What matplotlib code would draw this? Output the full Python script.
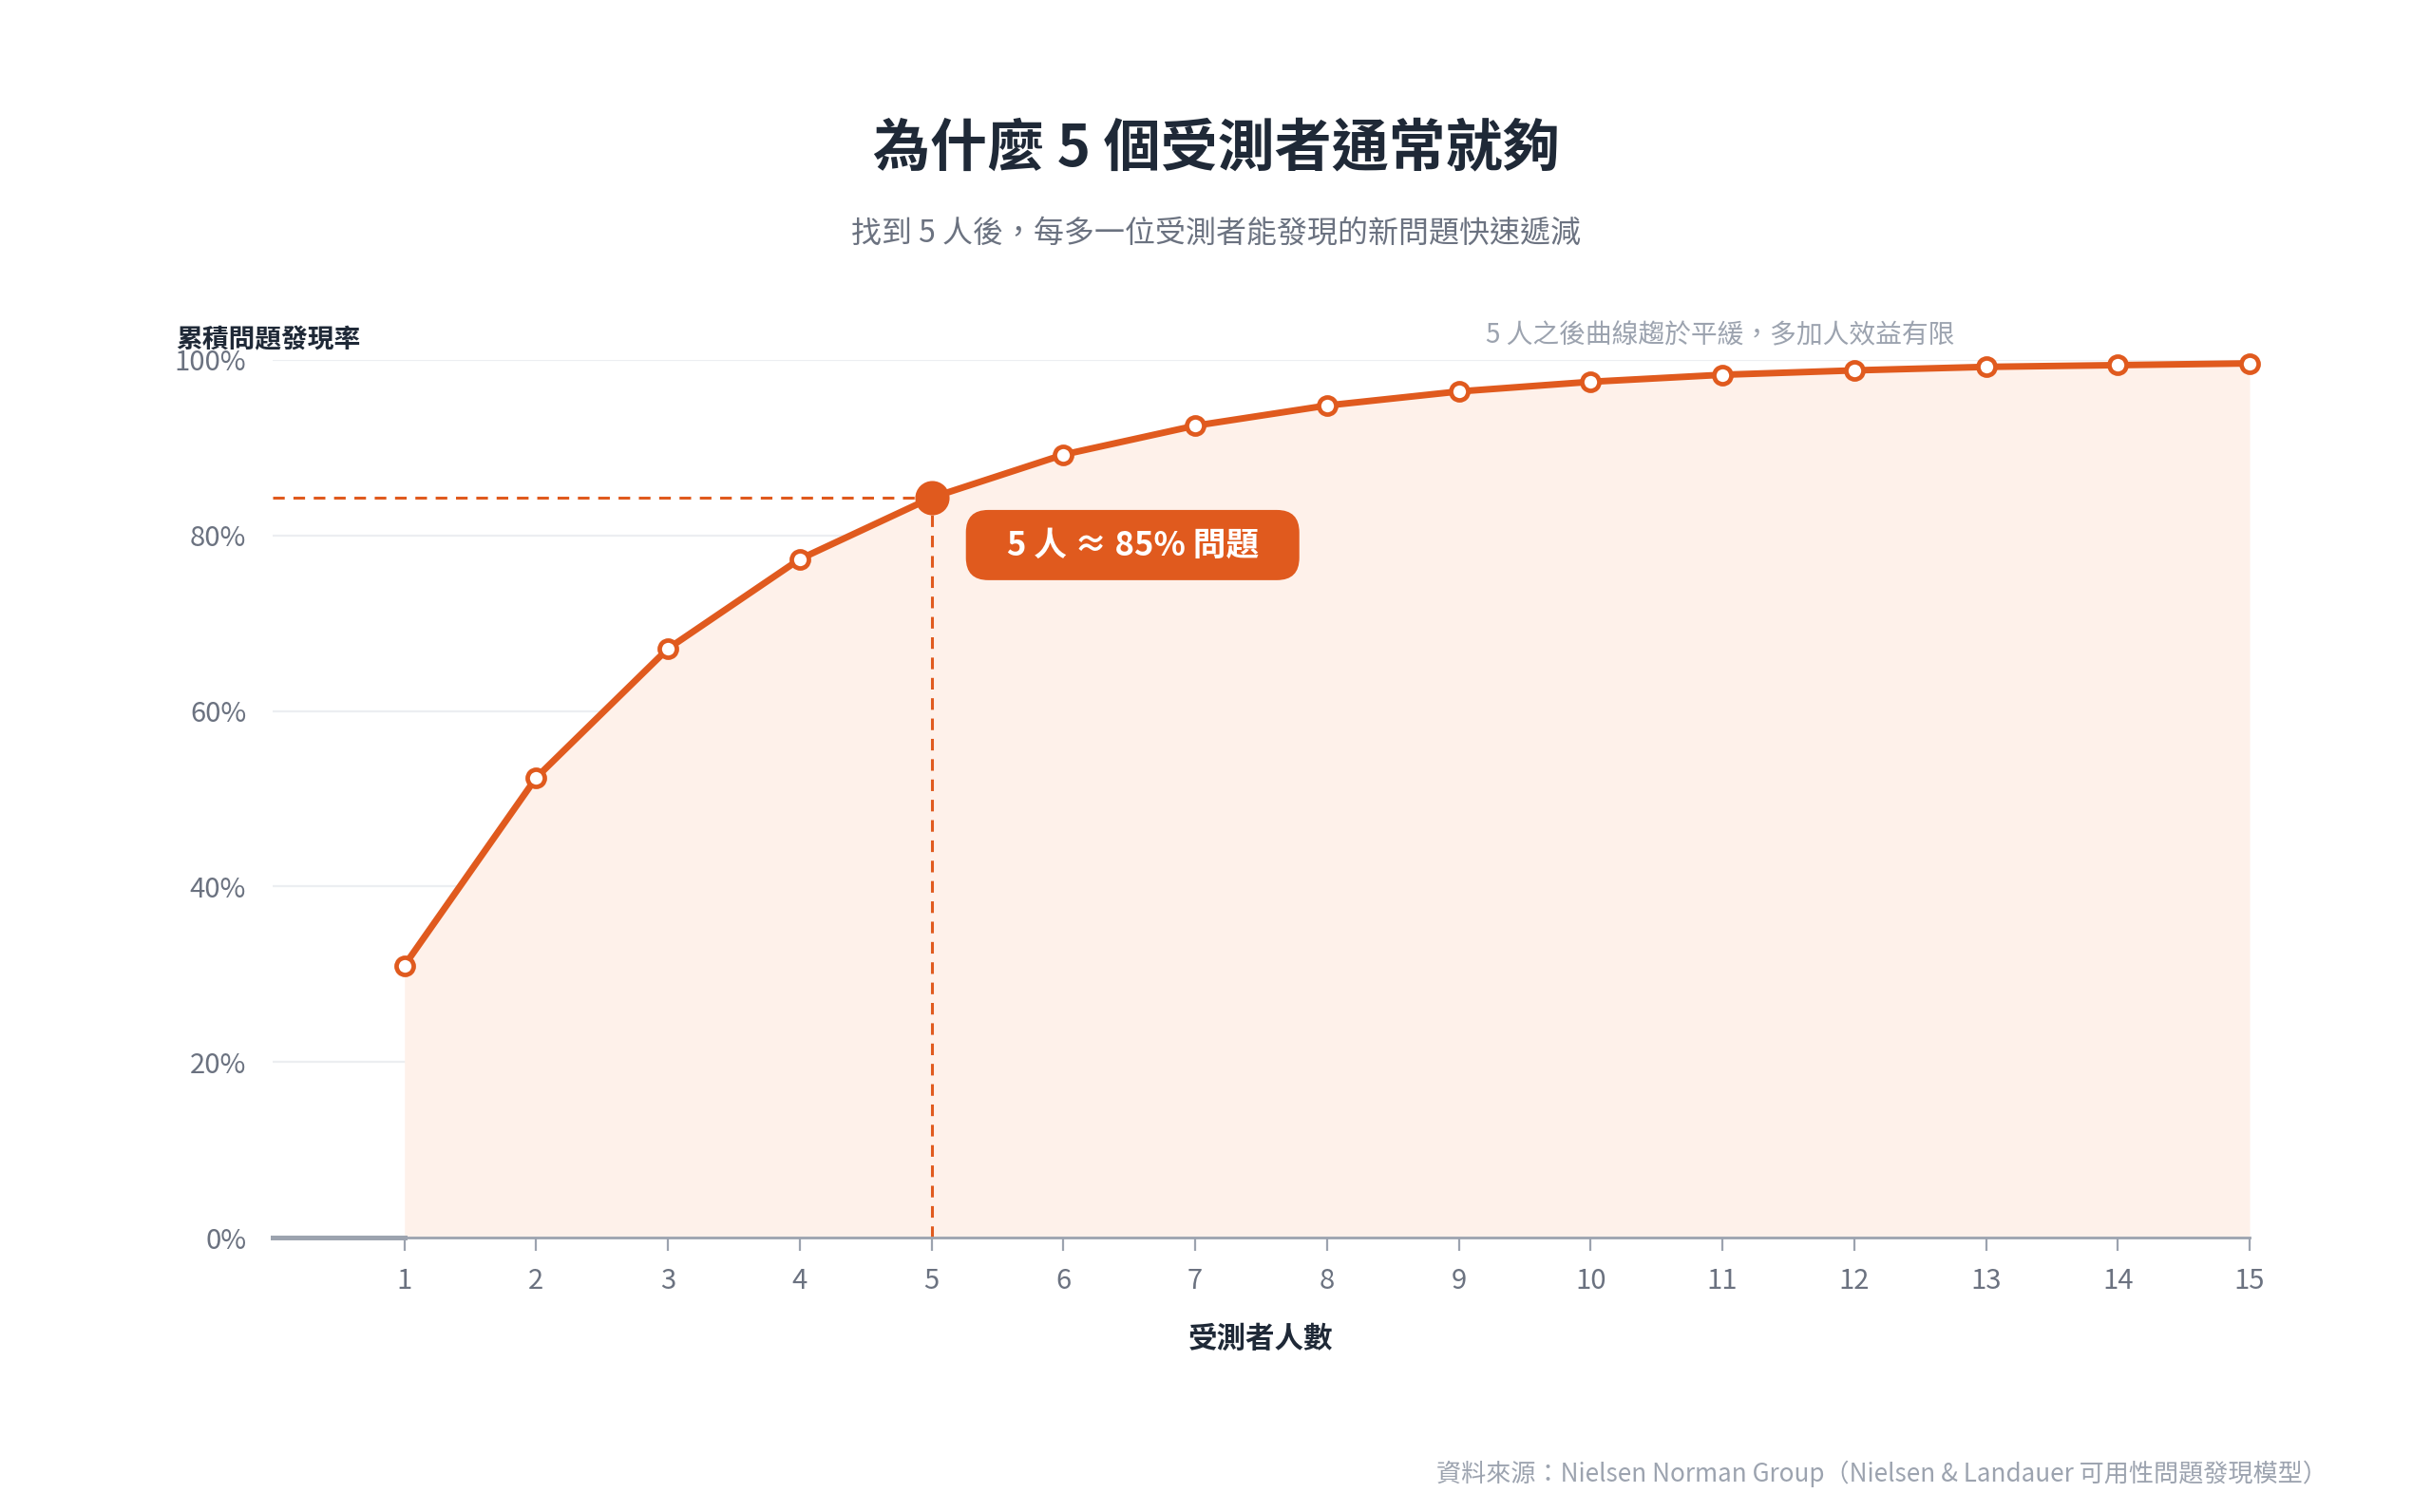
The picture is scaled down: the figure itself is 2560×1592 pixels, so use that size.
import matplotlib
matplotlib.use("Agg")
import matplotlib.pyplot as plt
from matplotlib.patches import FancyBboxPatch

plt.rcParams['font.family'] = ['Noto Sans CJK TC', 'DejaVu Sans']

# ---- data ----
testers = [1, 2, 3, 4, 5, 6, 7, 8, 9, 10, 11, 12, 13, 14, 15]
found_pct = [31, 52.4, 67.1, 77.3, 84.3, 89.2, 92.5, 94.8, 96.4, 97.5, 98.3, 98.8, 99.2, 99.4, 99.6]
y_ticks = [0, 20, 40, 60, 80, 100]
y_tick_labels = ["0%", "20%", "40%", "60%", "80%", "100%"]
highlight_n = 5
highlight_pct = 84.3

title = "為什麼 5 個受測者通常就夠"
subtitle = "找到 5 人後，每多一位受測者能發現的新問題快速遞減"
y_title = "累積問題發現率"
x_title = "受測者人數"
badge_text = "5 人 ≈ 85% 問題"
note_text = "5 人之後曲線趨於平緩，多加人效益有限"
source_text = "資料來源：Nielsen Norman Group（Nielsen & Landauer 可用性問題發現模型）"

ORANGE = "#e05a1e"
FILL = "#fef1ea"
DARK = "#1f2937"
GRAY = "#6b7280"
LIGHT = "#9ca3af"
GRID = "#eceef1"

fig = plt.figure(figsize=(12.8, 7.96), dpi=200)
ax = fig.add_axes([0.1121, 0.1815, 0.8129, 0.5805])

ax.set_xlim(0, 15)
ax.set_ylim(0, 100)

# grid
for yt in y_ticks[1:]:
    ax.axhline(yt, color=GRID, lw=0.8, zorder=0)

# fill
ax.fill_between(testers, 0, found_pct, color=FILL, lw=0, zorder=1)

# dashed guides
ax.plot([0, highlight_n], [highlight_pct, highlight_pct], ls=(0, (4, 3)), color=ORANGE, lw=1.1, zorder=2)
ax.plot([highlight_n, highlight_n], [0, highlight_pct], ls=(0, (4, 3)), color=ORANGE, lw=1.1, zorder=2)

# line + markers
ax.plot(testers, found_pct, color=ORANGE, lw=2.5, zorder=3, clip_on=False,
        marker='o', markersize=6.5, markerfacecolor='white', markeredgecolor=ORANGE,
        markeredgewidth=1.7)
ax.plot([highlight_n], [highlight_pct], 'o', color=ORANGE, markersize=12, zorder=4)

# spines / ticks
for s in ['top', 'right', 'left']:
    ax.spines[s].set_visible(False)
ax.spines['bottom'].set_color(LIGHT)
ax.spines['bottom'].set_linewidth(1.0)
ax.plot([0, testers[0]], [0, 0], color=LIGHT, lw=1.8, zorder=2, clip_on=False)

ax.set_xticks(testers)
ax.set_xticklabels([str(t) for t in testers])
ax.tick_params(axis='x', length=5, width=0.8, color=LIGHT, labelcolor=GRAY, labelsize=10.5, pad=6)
ax.set_yticks(y_ticks)
ax.set_yticklabels(y_tick_labels)
ax.tick_params(axis='y', length=0, labelcolor=GRAY, labelsize=10.5, pad=10)

ax.set_xlabel(x_title, fontsize=11, fontweight='bold', color=DARK, labelpad=11)

# badge (annotation box anchored relative to highlighted point)
bx0, bx1 = highlight_n + 0.26, highlight_n + 2.79
by0, by1 = highlight_pct - 9.4, highlight_pct - 1.4
ax.add_patch(FancyBboxPatch((bx0, by0), bx1 - bx0, by1 - by0,
                            boxstyle="round,pad=0,rounding_size=0.17",
                            mutation_aspect=15, fc=ORANGE, ec='none', zorder=5))
ax.text((bx0 + bx1) / 2, (by0 + by1) / 2, badge_text, ha='center', va='center',
        fontsize=12.5, fontweight='bold', color='white', zorder=6)

# texts
fig.text(0.5, 0.9015, title, ha='center', va='center', fontsize=21.6, fontweight='black', color=DARK)
fig.text(0.5, 0.846, subtitle, ha='center', va='center', fontsize=11.5, color=GRAY)
fig.text(0.0723, 0.775, y_title, ha='left', va='center', fontsize=10, fontweight='bold', color=DARK)
fig.text(0.611, 0.778, note_text, ha='left', va='center', fontsize=10, color=LIGHT)
fig.text(0.957, 0.025, source_text, ha='right', va='center', fontsize=9.4, color=LIGHT)

fig.savefig("out.png", dpi=200, facecolor='white')
